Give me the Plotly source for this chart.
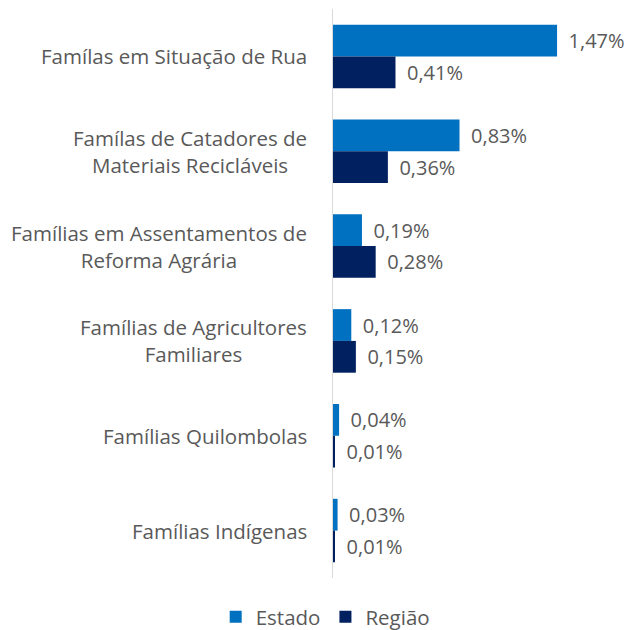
import plotly.graph_objects as go

categories = [
    "Famílas em Situação de Rua",
    "Famílas de Catadores de<br>Materiais Recicláveis",
    "Famílias em Assentamentos de<br>Reforma Agrária",
    "Famílias de Agricultores<br>Familiares",
    "Famílias Quilombolas",
    "Famílias Indígenas",
]
estado = [1.47, 0.83, 0.19, 0.12, 0.04, 0.03]
regiao = [0.41, 0.36, 0.28, 0.15, 0.01, 0.01]

grey = "#595959"
font_family = "Open Sans, Noto Sans, sans-serif"
FS = 20.5

fig = go.Figure()
for name, vals, color in [("Estado", estado, "#0070C0"), ("Região", regiao, "#002060")]:
    fig.add_trace(go.Bar(
        y=categories, x=vals, name=name, orientation="h",
        marker=dict(color=color, line=dict(width=0)),
        texttemplate="\u00a0\u2009%{x:.2f}%", textposition="outside",
        textfont=dict(size=20, color=grey, family=font_family),
        constraintext="none",
        cliponaxis=False,
    ))

# category labels as annotations (centered lines, right-aligned block)
for cat in categories:
    fig.add_annotation(
        x=0, y=cat, xref="x", yref="y", text=cat, showarrow=False,
        xanchor="right", yanchor="middle", xshift=-24, align="center",
        font=dict(size=FS, color=grey, family=font_family),
    )

fig.update_layout(
    width=629, height=630,
    margin=dict(l=333, r=0, t=9, b=52),
    paper_bgcolor="white", plot_bgcolor="white",
    barmode="group", bargap=0.33, bargroupgap=0,
    separators=",.",
    font=dict(family=font_family, color=grey, size=FS),
    showlegend=True,
    legend=dict(orientation="h", xref="container", yref="container",
                x=0.517, xanchor="center", y=0.0206, yanchor="middle",
                font=dict(size=20.5, color=grey), traceorder="normal",
                itemwidth=30),
)
fig.update_xaxes(range=[0, 1.942], showgrid=False, zeroline=False, showticklabels=False,
                 showline=False)
fig.update_yaxes(autorange="reversed", showline=True, linecolor="#d9d9d9", linewidth=1,
                 ticks="", showticklabels=False, showgrid=False)

fig.write_html(
    "out.html",
    config={"displayModeBar": False},
    post_script="document.body.style.margin='0';"
                "document.documentElement.style.overflow='hidden';"
                "document.body.style.overflow='hidden';",
)
